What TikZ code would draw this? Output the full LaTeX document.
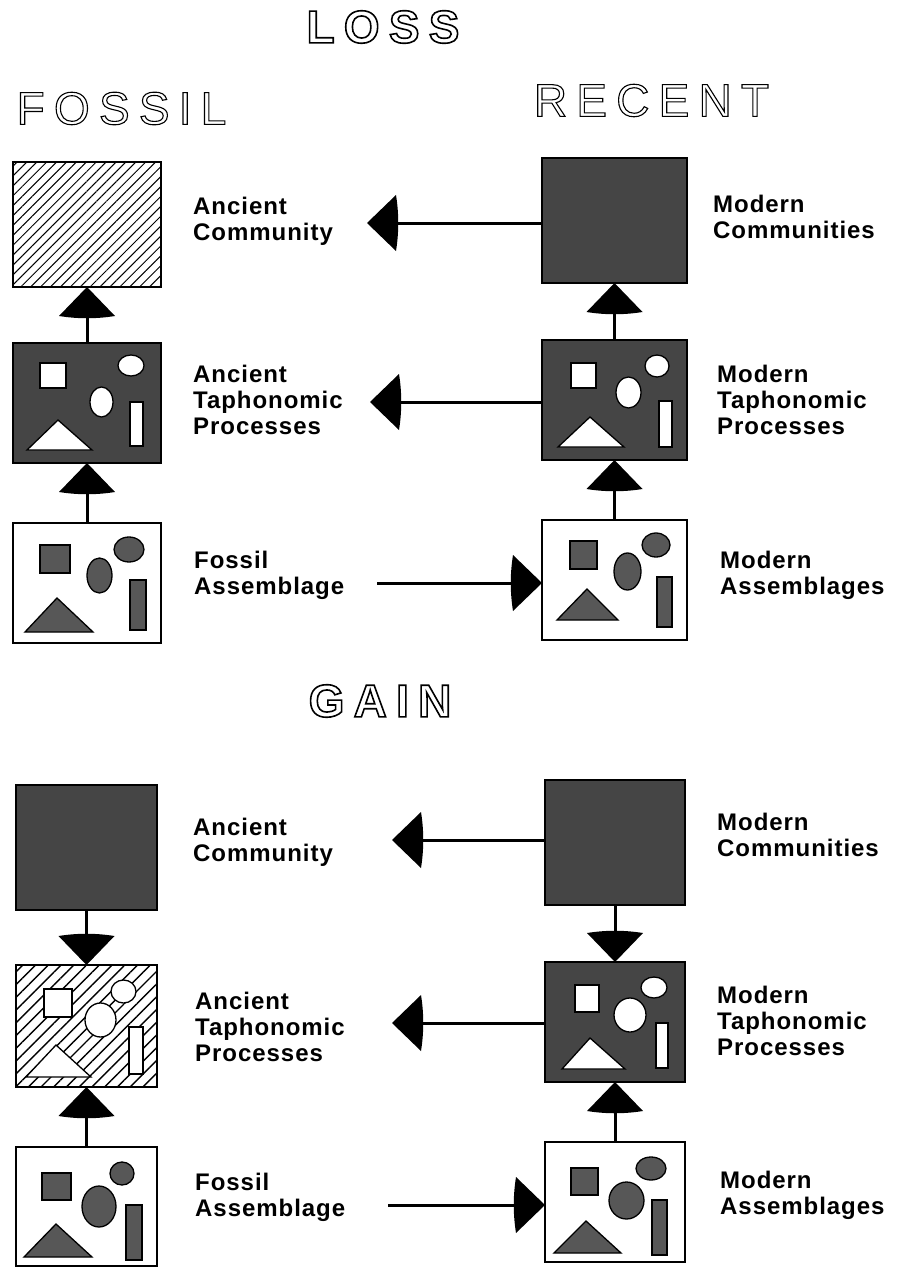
\documentclass[tikz,border=0pt]{standalone}
\usepackage{fontspec}
\setmainfont{Liberation Sans}
\newfontfamily\lblfamily[LetterSpace=4]{Liberation Sans}
\newfontfamily\ttlfamily[LetterSpace=20]{Liberation Sans}
\usetikzlibrary{patterns.meta}

\definecolor{stipple}{gray}{0.27}
\definecolor{speckgray}{gray}{0.34}

% hollow letters: glyph outlines stroked, not filled
\newcommand{\hollow}[2][1.1]{%
  \special{pdf:literal direct 1 Tr #1 w}#2\special{pdf:literal direct 0 Tr}}

\begin{document}
\begin{tikzpicture}[x=1pt, y=-1pt,
    cell/.style={draw, line width=1.8pt, inner sep=0pt, outer sep=0pt},
    cell dark/.style={cell, fill=stipple},
    cell plain/.style={cell, fill=white},
    cell hatch/.style={cell, pattern={Lines[angle=45,distance=7pt,line width=1pt]}},
    cell wide hatch/.style={cell, pattern={Lines[angle=45,distance=9pt,line width=1.4pt]}},
    hole/.style={draw, line width=1.3pt, fill=white},
    speck/.style={draw, line width=1.3pt, fill=speckgray},
    link/.style={line width=3pt, shorten >=8pt},
    wedge/.pic={\fill (0,0) -- (-29,28) .. controls (-32,9) and (-32,-9) .. (-29,-28) -- cycle;},
    lbl/.style={anchor=west, align=left, inner sep=0pt,
      font=\lblfamily\bfseries\fontsize{24}{26}\selectfont},
    ttl/.style={inner sep=0pt, font=\ttlfamily\fontsize{46}{50}\selectfont},
    ttl bold/.style={inner sep=0pt, font=\ttlfamily\bfseries\fontsize{46}{50}\selectfont}]

  \fill[white] (0,0) rectangle (898,1268);
  \useasboundingbox (0,0) rectangle (898,1268);

  % titles
  \node[ttl bold] (loss) at (383,27) {\hollow[1.6]{LOSS}};
  \node[ttl] (fossil) at (121.5,108.5) {\hollow{FOSSIL}};
  \node[ttl] (recent) at (651.5,100.5) {\hollow{RECENT}};
  \node[ttl bold] (gain) at (380,701) {\hollow[1.6]{GAIN}};

  % LOSS boxes
  \node[cell hatch, minimum width=148pt, minimum height=125pt] (ac1) at (87,224.5) {};
  \node[cell dark, minimum width=148pt, minimum height=120pt] (at1) at (87,403) {};
  \node[cell plain, minimum width=148pt, minimum height=120pt] (fa1) at (87,583) {};
  \node[cell dark, minimum width=145pt, minimum height=125pt] (mc1) at (614.5,220.5) {};
  \node[cell dark, minimum width=145pt, minimum height=120pt] (mt1) at (614.5,400) {};
  \node[cell plain, minimum width=145pt, minimum height=120pt] (ma1) at (614.5,580) {};

  % GAIN boxes
  \node[cell dark, minimum width=141pt, minimum height=125pt] (ac2) at (86.5,847.5) {};
  \node[cell wide hatch, minimum width=141pt, minimum height=122pt] (at2) at (86.5,1026) {};
  \node[cell plain, minimum width=141pt, minimum height=119pt] (fa2) at (86.5,1206.5) {};
  \node[cell dark, minimum width=140pt, minimum height=125pt] (mc2) at (615,842.5) {};
  \node[cell dark, minimum width=140pt, minimum height=120pt] (mt2) at (615,1022) {};
  \node[cell plain, minimum width=140pt, minimum height=120pt] (ma2) at (615,1202) {};

  % figures inside the boxes
  \begin{scope}[shift={(at1.north west)}]
    \draw[hole] (27,20) rectangle (53,45);
    \draw[hole] (118,22.5) ellipse [x radius=13, y radius=10.5];
    \draw[hole] (88.5,59) ellipse [x radius=11.5, y radius=15];
    \draw[hole] (117,59) rectangle (130,103);
    \draw[hole] (14,107) -- (45,77) -- (79,107) -- cycle;
  \end{scope}
  \begin{scope}[shift={(fa1.north west)}]
    \draw[speck] (27,22) rectangle (57,50);
    \draw[speck] (116,26.5) ellipse [x radius=15, y radius=12.5];
    \draw[speck] (86.5,52.5) ellipse [x radius=12.5, y radius=17.5];
    \draw[speck] (117,57) rectangle (133,107);
    \draw[speck] (12,109) -- (44,75) -- (80,109) -- cycle;
  \end{scope}
  \begin{scope}[shift={(mt1.north west)}]
    \draw[hole] (29,23) rectangle (54,48);
    \draw[hole] (115,26) ellipse [x radius=12, y radius=11];
    \draw[hole] (86.5,52.5) ellipse [x radius=12.5, y radius=15.5];
    \draw[hole] (117,61) rectangle (130,107);
    \draw[hole] (16,107) -- (48,77) -- (82,107) -- cycle;
  \end{scope}
  \begin{scope}[shift={(ma1.north west)}]
    \draw[speck] (28,21) rectangle (55,49);
    \draw[speck] (114,25) ellipse [x radius=14, y radius=12];
    \draw[speck] (85.5,51.5) ellipse [x radius=13.5, y radius=18.5];
    \draw[speck] (115,57) rectangle (130,107);
    \draw[speck] (15,100) -- (45,69) -- (76,100) -- cycle;
  \end{scope}
  \begin{scope}[shift={(at2.north west)}]
    \draw[hole] (28,24) rectangle (56,52);
    \draw[hole] (107.5,26.5) ellipse [x radius=12.5, y radius=11.5];
    \draw[hole] (84.5,55) ellipse [x radius=15.5, y radius=17];
    \draw[hole] (113,62) rectangle (127,109);
    \draw[hole] (10,112) -- (40,80) -- (75,112) -- cycle;
  \end{scope}
  \begin{scope}[shift={(fa2.north west)}]
    \draw[speck] (26,26) rectangle (55,53);
    \draw[speck] (106,26.5) ellipse [x radius=12, y radius=11.5];
    \draw[speck] (83,59.5) ellipse [x radius=17, y radius=20.5];
    \draw[speck] (110,58) rectangle (126,113);
    \draw[speck] (8,110) -- (40,77) -- (76,110) -- cycle;
  \end{scope}
  \begin{scope}[shift={(mt2.north west)}]
    \draw[hole] (30,23) rectangle (54,50);
    \draw[hole] (109,25.5) ellipse [x radius=13, y radius=10.5];
    \draw[hole] (85,53) ellipse [x radius=16, y radius=17];
    \draw[hole] (111,61) rectangle (123,106);
    \draw[hole] (17,107) -- (45,76) -- (80,107) -- cycle;
  \end{scope}
  \begin{scope}[shift={(ma2.north west)}]
    \draw[speck] (26,26) rectangle (53,53);
    \draw[speck] (106,26.5) ellipse [x radius=15, y radius=11.5];
    \draw[speck] (81.5,58.5) ellipse [x radius=17.5, y radius=18.5];
    \draw[speck] (107,58) rectangle (122,113);
    \draw[speck] (9,111) -- (41,79) -- (76,111) -- cycle;
  \end{scope}

  % vertical links
  \draw[link] (fa1) -- (at1);  \pic[rotate=90] at (at1.south) {wedge};
  \draw[link] (at1) -- (ac1);  \pic[rotate=90] at (ac1.south) {wedge};
  \draw[link] (ma1) -- (mt1);  \pic[rotate=90] at (mt1.south) {wedge};
  \draw[link] (mt1) -- (mc1);  \pic[rotate=90] at (mc1.south) {wedge};
  \draw[link] (ac2) -- (at2);  \pic[rotate=-90] at (at2.north) {wedge};
  \draw[link] (fa2) -- (at2);  \pic[rotate=90] at (at2.south) {wedge};
  \draw[link] (mc2) -- (mt2);  \pic[rotate=-90] at (mt2.north) {wedge};
  \draw[link] (ma2) -- (mt2);  \pic[rotate=90] at (mt2.south) {wedge};

  % horizontal links
  \coordinate (h1) at (367,223);
  \coordinate (h2) at (370,402);
  \coordinate (h3) at (377,583);
  \coordinate (h4) at (392,840);
  \coordinate (h5) at (392,1023);
  \coordinate (h6) at (388,1205);
  \draw[link] (mc1.west |- h1) -- (h1);  \pic[rotate=180] at (h1) {wedge};
  \draw[link] (mt1.west |- h2) -- (h2);  \pic[rotate=180] at (h2) {wedge};
  \draw[link] (h3) -- (ma1.west |- h3);  \pic at (ma1.west |- h3) {wedge};
  \draw[link] (mc2.west |- h4) -- (h4);  \pic[rotate=180] at (h4) {wedge};
  \draw[link] (mt2.west |- h5) -- (h5);  \pic[rotate=180] at (h5) {wedge};
  \draw[link] (h6) -- (ma2.west |- h6);  \pic at (ma2.west |- h6) {wedge};

  % labels
  \node[lbl] (lac1) at (193,221) {Ancient\\Community};
  \node[lbl] (lat1) at (193,400) {Ancient\\Taphonomic\\Processes};
  \node[lbl] (lfa1) at (194,575) {Fossil\\Assemblage};
  \node[lbl] (lmc1) at (713,217) {Modern\\Communities};
  \node[lbl] (lmt1) at (717,400) {Modern\\Taphonomic\\Processes};
  \node[lbl] (lma1) at (720,575) {Modern\\Assemblages};
  \node[lbl] (lac2) at (193,842) {Ancient\\Community};
  \node[lbl] (lat2) at (195,1027) {Ancient\\Taphonomic\\Processes};
  \node[lbl] (lfa2) at (195,1197) {Fossil\\Assemblage};
  \node[lbl] (lmc2) at (717,835) {Modern\\Communities};
  \node[lbl] (lmt2) at (717,1021) {Modern\\Taphonomic\\Processes};
  \node[lbl] (lma2) at (720,1195) {Modern\\Assemblages};
\end{tikzpicture}
\end{document}
